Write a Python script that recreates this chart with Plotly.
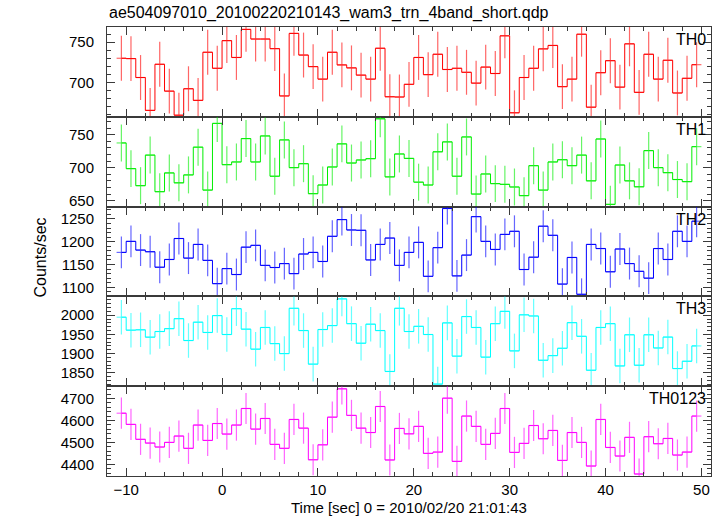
import plotly.graph_objects as go
from plotly.subplots import make_subplots

time_sec = [-10.5, -9.5, -8.5, -7.5, -6.5, -5.5, -4.5, -3.5, -2.5, -1.5,
            -0.5, 0.5, 1.5, 2.5, 3.5, 4.5, 5.5, 6.5, 7.5, 8.5,
            9.5, 10.5, 11.5, 12.5, 13.5, 14.5, 15.5, 16.5, 17.5, 18.5,
            19.5, 20.5, 21.5, 22.5, 23.5, 24.5, 25.5, 26.5, 27.5, 28.5,
            29.5, 30.5, 31.5, 32.5, 33.5, 34.5, 35.5, 36.5, 37.5, 38.5,
            39.5, 40.5, 41.5, 42.5, 43.5, 44.5, 45.5, 46.5, 47.5, 48.5,
            49.5]
bin_half_width = 0.5

th0 = [730, 729.6, 706, 665, 722.5, 689, 659, 692, 677.5, 737.5,
       717.5, 752, 731, 766, 754, 754, 742, 683, 761, 734,
       719.6, 704, 737.5, 721.7, 718, 709, 704, 742.5, 682, 681.7,
       697.5, 731, 709.6, 735, 716, 717.5, 712.5, 699, 719, 711,
       758, 662, 706, 717.5, 741.7, 746, 694.6, 704, 760, 669,
       712, 727, 694, 748, 687.5, 735, 704, 727.5, 686.7, 705,
       722]
th1 = [737.4, 698.5, 672.7, 719, 663.6, 692, 677, 689, 731, 666,
       767, 704.5, 708.6, 744, 708.6, 748, 687, 742, 700, 706,
       660.6, 673.7, 701, 736, 707, 711.6, 713.6, 774, 686, 720.7,
       714, 678, 673.7, 724, 739, 687, 746.5, 660, 690.4, 675.8,
       674.7, 670.7, 657.6, 703, 666, 708.6, 712, 703, 719, 680,
       743.4, 644.4, 704, 680, 671, 725.8, 700, 692.4, 682, 678.8,
       731.8]
th2 = [1176.5, 1200.7, 1181.6, 1178, 1144, 1161, 1207, 1164, 1194, 1159,
       1108, 1141, 1128, 1188, 1192, 1148, 1143.4, 1152, 1130, 1173,
       1176.5, 1156.6, 1211.8, 1248.5, 1225.7, 1225, 1160, 1194, 1208, 1148,
       1176.5, 1198.5, 1124, 1187, 1272.8, 1125, 1170.6, 1255, 1200.7, 1183,
       1216, 1222.8, 1139, 1166, 1234, 1214, 1107, 1165.4, 1084.6, 1194,
       1185, 1134, 1184, 1152, 1135, 1120, 1185, 1161, 1222.8, 1200.7,
       1245]
th3 = [1994.8, 1961, 1962, 1942.8, 1957.5, 1965, 1991, 1934, 1981.8, 1955,
       1999, 1949.7, 2017, 1963.6, 1911.5, 1968, 1926, 1900, 2018, 1960,
       1872.5, 1962.7, 1973, 2042.5, 1978, 1927, 1976.6, 1960, 1853.4, 2018,
       1957.5, 1971, 1949.7, 1820.5, 1980, 1893.3, 1996.5, 1968, 1890.7, 1978,
       2010, 1907, 2001, 1998, 1882.6, 1894.7, 1913.8, 1980.6, 1945, 1856.6,
       1968, 1978, 1867.8, 1949, 1869.6, 1949, 1914.6, 1943, 1861, 1880,
       1920]
th0123 = [4633, 4582, 4514, 4497, 4479, 4500, 4529, 4473, 4579, 4509,
          4586, 4538, 4579, 4654.5, 4560.6, 4609, 4491, 4473, 4604.5, 4565,
          4421, 4489, 4615, 4744, 4623, 4565, 4545, 4663.6, 4420, 4563.6,
          4539, 4573, 4450, 4456, 4701.5, 4413.6, 4620, 4573, 4491, 4541,
          4654.5, 4454.5, 4495.5, 4577, 4516.7, 4554.5, 4418, 4545, 4500, 4392.4,
          4604.5, 4477, 4438, 4523, 4356, 4526, 4494, 4518, 4442.4, 4456,
          4620]

series_names = ["TH0", "TH1", "TH2", "TH3", "TH0123"]
series_values = [th0, th1, th2, th3, th0123]
series_errors = [28, 28, 35, 45, 71]
series_colors = ["#ff0000", "#00ee00", "#0000ff", "#00ffff", "#ff00ff"]
y_ranges = [[657, 769], [641, 777], [1080, 1277], [1815, 2049], [4347, 4756]]
y_dticks = [50, 50, 50, 50, 100]
y_minor = [10, 10, 10, 10, 20]

x_range = [-12, 51]
title_text = "ae504097010_20100220210143_wam3_trn_4band_short.qdp"
x_title = "Time [sec] 0 = 2010/02/20 21:01:43"
y_title = "Counts/sec"

FONT = "Liberation Sans, Arial, Helvetica, sans-serif"
AXC = "#3a3a3a"

fig = make_subplots(rows=5, cols=1, shared_xaxes=True, vertical_spacing=0)

for i, (name, vals, err, col) in enumerate(zip(series_names, series_values, series_errors, series_colors)):
    r = i + 1
    fig.add_trace(go.Scatter(
        x=time_sec, y=vals, mode="markers",
        marker=dict(size=1, color=col, opacity=0),
        error_y=dict(type="constant", value=err, color=col, thickness=1.2, width=0),
        error_x=dict(type="constant", value=bin_half_width, color=col, thickness=1.2, width=0),
        opacity=0.6,
        showlegend=False, hoverinfo="skip", name=name,
    ), row=r, col=1)
    fig.add_trace(go.Scatter(
        x=time_sec, y=vals, mode="lines", line=dict(color=col, width=1, shape="hvh"),
        showlegend=False, hoverinfo="skip", name=name,
    ), row=r, col=1)
    fig.update_yaxes(
        range=y_ranges[i], dtick=y_dticks[i], tick0=0,
        ticks="inside", ticklen=8, tickwidth=1, tickcolor=AXC,
        minor=dict(dtick=y_minor[i], ticks="inside", ticklen=4, tickcolor=AXC, tickwidth=1),
        showline=True, linecolor=AXC, linewidth=1, mirror="allticks",
        showgrid=False, zeroline=False, ticklabelstandoff=9,
        tickfont=dict(family=FONT, size=15, color="black"),
        row=r, col=1)
    fig.update_xaxes(
        range=x_range, dtick=10, tick0=0,
        ticks="inside", ticklen=8, tickwidth=1, tickcolor=AXC,
        minor=dict(dtick=2, ticks="inside", ticklen=4, tickcolor=AXC, tickwidth=1),
        showline=True, linecolor=AXC, linewidth=1, mirror="allticks",
        showgrid=False, zeroline=False,
        showticklabels=(r == 5),
        tickfont=dict(family=FONT, size=15, color="black"),
        row=r, col=1)
    dom = fig.layout["yaxis" + ("" if r == 1 else str(r))].domain
    fig.add_annotation(
        x=1, y=dom[1], xref="paper", yref="paper",
        xanchor="right", yanchor="top", xshift=-3, yshift=-2,
        text=name, showarrow=False,
        font=dict(family=FONT, size=16, color="black"),
    )

fig.add_annotation(x=0, y=1, xref="paper", yref="paper", xanchor="left", yanchor="bottom",
                   yshift=3, text=title_text, showarrow=False,
                   font=dict(family=FONT, size=16, color="black"))
fig.add_annotation(x=0.5, y=0, xref="paper", yref="paper", xanchor="center", yanchor="top",
                   yshift=-21, text=x_title, showarrow=False,
                   font=dict(family=FONT, size=15, color="black"))
fig.add_annotation(x=0, y=0.5, xref="paper", yref="paper", xanchor="center", yanchor="middle",
                   xshift=-67, yshift=-6, text=y_title, textangle=-90, showarrow=False,
                   font=dict(family=FONT, size=16, color="black"))

fig.update_layout(
    width=723, height=516,
    margin=dict(l=107, r=12, t=27, b=40),
    paper_bgcolor="white", plot_bgcolor="white",
    showlegend=False, hovermode=False,
)

fig.write_html("out.html", config={"displayModeBar": False, "staticPlot": True},
               post_script="document.body.style.margin='0px';document.body.style.overflow='hidden';")
